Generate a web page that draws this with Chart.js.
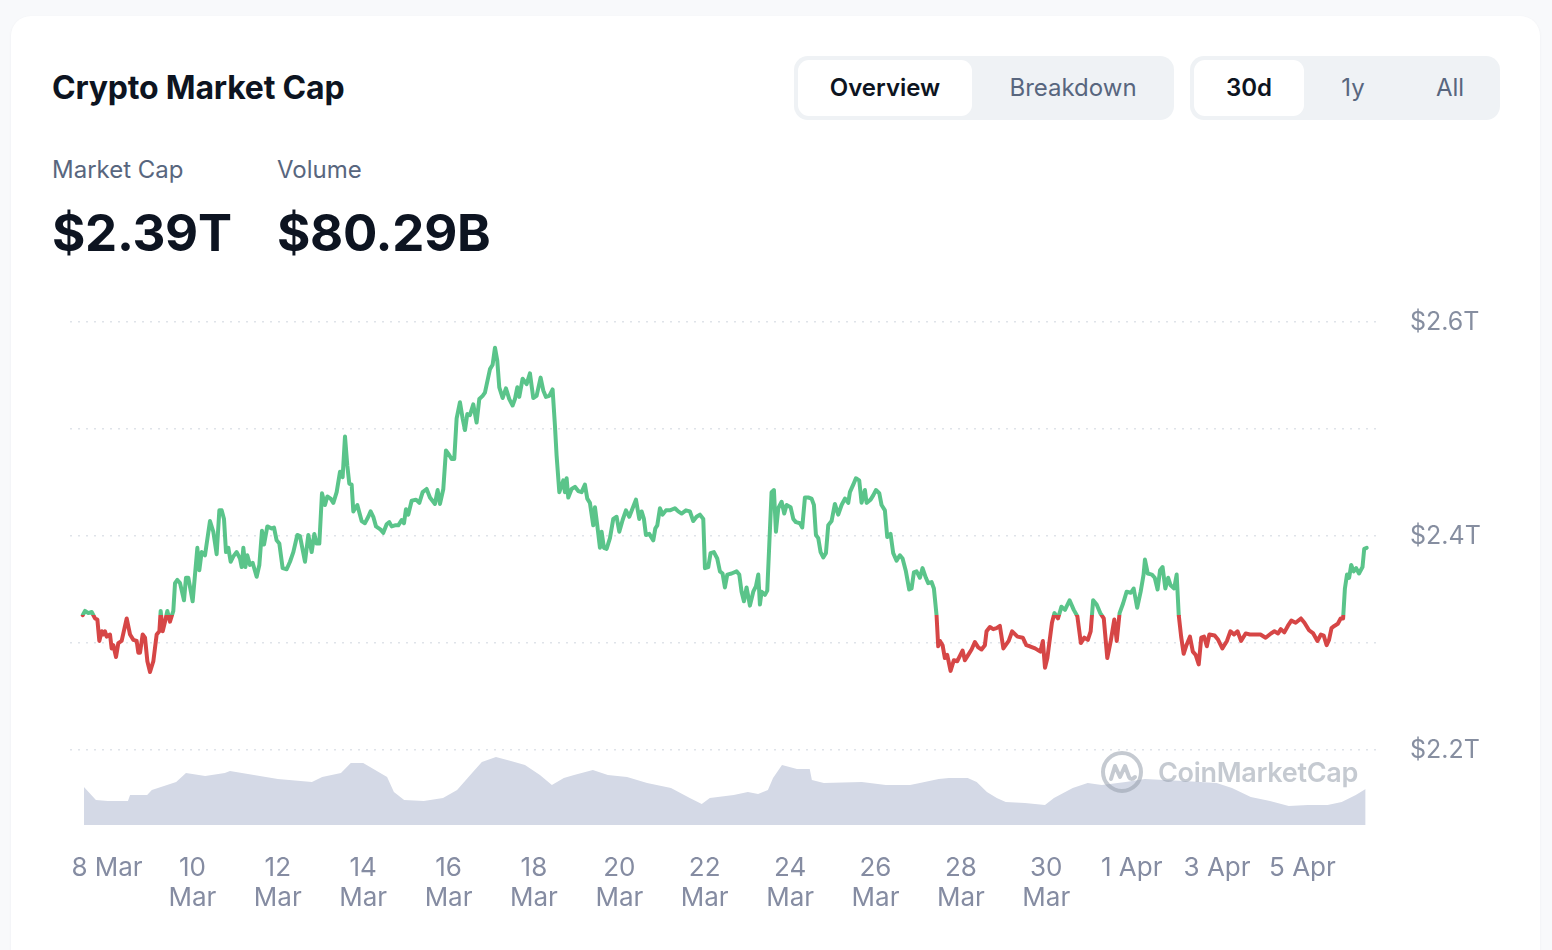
<!DOCTYPE html>
<html>
<head>
<meta charset="utf-8">
<title>Crypto Market Cap</title>
<script src="https://cdn.jsdelivr.net/npm/chart.js@4"></script>
<style>
  html, body { margin: 0; padding: 0; }
  body { width: 1552px; height: 950px; background: #f8f9fb; font-family: Inter, "Noto Sans", sans-serif; position: relative; overflow: hidden; }
  .card { position: absolute; left: 11px; top: 16px; width: 1529px; height: 960px; background: #fff; border-radius: 20px; box-shadow: 0 1px 3px rgba(20,30,50,0.05); }
  .title { position: absolute; left: 52px; top: 68px; font-size: 32px; font-weight: 700; color: #0d1421; letter-spacing: -0.2px; }
  .tabs { position: absolute; top: 56px; height: 64px; background: #eff2f5; border-radius: 14px; }
  .tab { position: absolute; top: 4px; height: 56px; line-height: 56px; text-align: center; font-size: 24px; color: #58667e; }
  .tab.on { background: #fff; border-radius: 11px; color: #0d1421; font-weight: 600; }
  .lbl { position: absolute; top: 155px; font-size: 24px; color: #58667e; }
  .big { position: absolute; top: 202px; font-size: 51px; font-weight: 700; color: #0d1421; letter-spacing: -0.3px; }
  #wrap { position: absolute; left: 0; top: 290px; width: 1552px; height: 640px; }
  .mark { position: absolute; left: 1100px; top: 749px; height: 46px; display: flex; align-items: center; color: rgba(150,158,172,0.55); font-size: 27px; font-weight: 600; letter-spacing: -0.3px; }
  .mark svg { margin-right: 14px; }
</style>
</head>
<body>
<div class="card"></div>
<div class="title">Crypto Market Cap</div>

<div class="tabs" style="left:794px;width:380px;">
  <div class="tab on" style="left:4px;width:174px;">Overview</div>
  <div class="tab" style="left:182px;width:194px;">Breakdown</div>
</div>
<div class="tabs" style="left:1190px;width:310px;">
  <div class="tab on" style="left:4px;width:110px;">30d</div>
  <div class="tab" style="left:116px;width:94px;">1y</div>
  <div class="tab" style="left:210px;width:100px;">All</div>
</div>

<div class="lbl" style="left:52px;">Market Cap</div>
<div class="lbl" style="left:277px;">Volume</div>
<div class="big" style="left:52px;">$2.39T</div>
<div class="big" style="left:277px;">$80.29B</div>

<div id="wrap"><canvas id="capChart" width="1552" height="640"></canvas></div>

<div class="mark">
  <svg width="44" height="44" viewBox="0 0 44 44">
    <circle cx="22" cy="22" r="19" fill="none" stroke="rgba(150,158,172,0.55)" stroke-width="4"/>
    <path d="M11 29 L15 16 L20 27 L25 16 L29 27 Q31 31 35 27" fill="none" stroke="rgba(150,158,172,0.55)" stroke-width="4" stroke-linejoin="round" stroke-linecap="round"/>
  </svg>
  CoinMarketCap
</div>

<script>
// days counted from 8 Mar 00:00
const capDays = [
  -0.570, -0.515, -0.437, -0.359, -0.281, -0.226, -0.180, -0.125, -0.086, -0.047, -0.008,
  0.070, 0.109, 0.148, 0.211, 0.265, 0.343, 0.461, 0.539, 0.617, 0.695, 0.734, 0.773, 0.835, 0.890, 0.945,
  1.007, 1.085, 1.163, 1.226, 1.257, 1.304, 1.358, 1.413, 1.475, 1.553, 1.593, 1.647, 1.710, 1.803, 1.850, 1.905,
  2.006, 2.061, 2.116, 2.162, 2.217, 2.295, 2.412, 2.490, 2.568, 2.631, 2.685, 2.740, 2.787, 2.842, 2.896, 2.959,
  3.037, 3.115, 3.154, 3.193, 3.240, 3.286, 3.349, 3.411, 3.505, 3.568, 3.630, 3.677, 3.755, 3.856, 3.911, 3.973,
  4.036, 4.114, 4.208, 4.286, 4.364, 4.457, 4.520, 4.637, 4.715, 4.793, 4.856, 4.910, 4.973,
  5.035, 5.105, 5.160, 5.238, 5.301, 5.379, 5.457, 5.519, 5.574, 5.628, 5.675, 5.730, 5.769, 5.863, 5.964,
  6.042, 6.120, 6.175, 6.237, 6.300, 6.409, 6.471, 6.550, 6.612, 6.667, 6.745, 6.823, 6.901, 6.956,
  7.002, 7.057, 7.135, 7.237, 7.315, 7.393, 7.486, 7.564, 7.681, 7.744, 7.799, 7.877, 7.939, 7.994,
  8.072, 8.134, 8.189, 8.267, 8.329, 8.384, 8.439, 8.501, 8.579, 8.657, 8.720, 8.798, 8.852, 8.970,
  9.032, 9.087, 9.141, 9.188, 9.266, 9.344, 9.422, 9.500, 9.555, 9.610, 9.656, 9.735, 9.828, 9.906, 9.984,
  10.062, 10.156, 10.219, 10.281, 10.359, 10.437, 10.492, 10.531, 10.594, 10.687, 10.726, 10.765, 10.804, 10.882, 10.960,
  11.038, 11.116, 11.194, 11.249, 11.311, 11.389, 11.429, 11.483, 11.546, 11.585, 11.639, 11.702, 11.780, 11.858, 11.936, 11.999,
  12.077, 12.155, 12.233, 12.311, 12.389, 12.467, 12.522, 12.576, 12.623, 12.701, 12.795, 12.842, 12.889, 12.951,
  13.014, 13.092, 13.185, 13.302, 13.380, 13.458, 13.560, 13.653, 13.731, 13.809, 13.888, 13.966,
  14.005, 14.083, 14.137, 14.215, 14.293, 14.356, 14.418, 14.473, 14.528, 14.629, 14.746, 14.809, 14.863, 14.918, 14.980,
  15.059, 15.137, 15.199, 15.254, 15.293, 15.332, 15.410, 15.465, 15.512, 15.566, 15.621, 15.668, 15.723, 15.801, 15.863, 15.918,
  16.011, 16.074, 16.136, 16.230, 16.284, 16.347, 16.425, 16.503, 16.558, 16.605, 16.659, 16.714, 16.776, 16.839, 16.893, 16.971,
  17.049, 17.127, 17.206, 17.284, 17.362, 17.401, 17.479, 17.541, 17.619, 17.674, 17.752, 17.791, 17.885, 17.947,
  18.010, 18.088, 18.142, 18.220, 18.275, 18.353, 18.415, 18.493, 18.571, 18.634, 18.712, 18.790, 18.845, 18.899, 18.962,
  19.040, 19.102, 19.180, 19.235, 19.313, 19.368, 19.430, 19.469, 19.508, 19.571, 19.625, 19.680, 19.758, 19.836, 19.914, 19.977,
  20.039, 20.094, 20.172, 20.250, 20.328, 20.406, 20.484, 20.562, 20.601, 20.679, 20.757, 20.835, 20.913, 20.995,
  21.120, 21.201, 21.326, 21.450, 21.532, 21.614, 21.738, 21.862, 21.920, 21.970,
  22.026, 22.133, 22.192, 22.274, 22.356, 22.438, 22.546, 22.644, 22.728, 22.810, 22.892, 22.974,
  23.040, 23.098, 23.180, 23.265, 23.347, 23.429, 23.511, 23.593, 23.651, 23.717, 23.799, 23.883, 23.981,
  24.047, 24.129, 24.211, 24.279, 24.311, 24.377, 24.475, 24.541, 24.607, 24.665, 24.724, 24.789, 24.855, 24.913, 24.995,
  25.054, 25.103, 25.159, 25.218, 25.283, 25.365, 25.433, 25.499, 25.571, 25.630, 25.696, 25.761, 25.820, 25.944,
  26.026, 26.124, 26.232, 26.314, 26.398, 26.480, 26.562, 26.670, 26.768, 26.892,
  27.017, 27.138, 27.262, 27.344, 27.429, 27.494, 27.576, 27.658, 27.740, 27.841, 27.965,
  28.047, 28.155, 28.253, 28.351, 28.433, 28.499, 28.567, 28.623, 28.681, 28.747, 28.829, 28.895, 28.953, 28.995,
  29.044, 29.094, 29.143, 29.201, 29.258, 29.325, 29.407, 29.447, 29.506
];
// market cap, trillions USD
const capValues = [
  2.326, 2.330, 2.328, 2.329, 2.323, 2.322, 2.302, 2.311, 2.308, 2.311, 2.306,
  2.308, 2.295, 2.298, 2.287, 2.300, 2.302, 2.323, 2.308, 2.303, 2.302, 2.291, 2.291, 2.308, 2.305, 2.283,
  2.273, 2.283, 2.308, 2.311, 2.330, 2.311, 2.320, 2.330, 2.320, 2.330, 2.356, 2.359, 2.356, 2.340, 2.361, 2.361,
  2.339, 2.364, 2.389, 2.368, 2.385, 2.382, 2.414, 2.404, 2.383, 2.424, 2.424, 2.416, 2.385, 2.389, 2.376, 2.381,
  2.385, 2.379, 2.371, 2.389, 2.371, 2.382, 2.373, 2.375, 2.362, 2.373, 2.405, 2.392, 2.409, 2.407, 2.408, 2.396,
  2.393, 2.370, 2.369, 2.376, 2.385, 2.401, 2.400, 2.376, 2.401, 2.385, 2.402, 2.393, 2.393,
  2.440, 2.429, 2.437, 2.435, 2.431, 2.441, 2.460, 2.455, 2.493, 2.466, 2.449, 2.448, 2.423, 2.429, 2.414,
  2.412, 2.418, 2.423, 2.418, 2.409, 2.406, 2.403, 2.411, 2.413, 2.409, 2.410, 2.410, 2.415, 2.412,
  2.425, 2.420, 2.433, 2.434, 2.431, 2.441, 2.444, 2.436, 2.430, 2.443, 2.430, 2.444, 2.480, 2.477,
  2.472, 2.472, 2.510, 2.525, 2.510, 2.499, 2.514, 2.513, 2.523, 2.506, 2.528, 2.531, 2.534, 2.556,
  2.560, 2.576, 2.564, 2.539, 2.529, 2.538, 2.528, 2.522, 2.528, 2.539, 2.530, 2.547, 2.542, 2.552, 2.529,
  2.531, 2.548, 2.536, 2.530, 2.531, 2.537, 2.503, 2.475, 2.441, 2.452, 2.441, 2.454, 2.436, 2.444, 2.446,
  2.442, 2.441, 2.448, 2.435, 2.431, 2.410, 2.427, 2.410, 2.389, 2.404, 2.389, 2.388, 2.398, 2.416, 2.418, 2.404,
  2.415, 2.424, 2.418, 2.426, 2.434, 2.416, 2.423, 2.416, 2.401, 2.402, 2.396, 2.407, 2.410, 2.426,
  2.420, 2.424, 2.424, 2.426, 2.423, 2.421, 2.424, 2.423, 2.414, 2.418, 2.420, 2.416,
  2.370, 2.371, 2.384, 2.385, 2.379, 2.367, 2.365, 2.352, 2.364, 2.365, 2.367, 2.364, 2.348, 2.339, 2.352,
  2.335, 2.348, 2.353, 2.364, 2.336, 2.348, 2.345, 2.349, 2.392, 2.441, 2.443, 2.404, 2.426, 2.432, 2.421, 2.429,
  2.427, 2.416, 2.413, 2.412, 2.408, 2.436, 2.436, 2.435, 2.429, 2.401, 2.398, 2.385, 2.380, 2.384, 2.410, 2.414,
  2.430, 2.420, 2.429, 2.435, 2.431, 2.441, 2.448, 2.454, 2.452, 2.431, 2.443, 2.431, 2.434, 2.438,
  2.443, 2.440, 2.429, 2.424, 2.399, 2.402, 2.384, 2.377, 2.382, 2.379, 2.367, 2.350, 2.351, 2.366, 2.367,
  2.361, 2.370, 2.361, 2.356, 2.357, 2.351, 2.326, 2.297, 2.302, 2.298, 2.286, 2.289, 2.274, 2.284, 2.283, 2.288,
  2.293, 2.284, 2.289, 2.294, 2.301, 2.296, 2.294, 2.298, 2.311, 2.315, 2.313, 2.314, 2.316, 2.295,
  2.302, 2.311, 2.306, 2.305, 2.298, 2.297, 2.295, 2.292, 2.302, 2.277,
  2.286, 2.319, 2.328, 2.323, 2.334, 2.331, 2.340, 2.331, 2.325, 2.300, 2.305, 2.303,
  2.311, 2.340, 2.336, 2.328, 2.323, 2.286, 2.302, 2.322, 2.302, 2.328, 2.337, 2.348, 2.347,
  2.351, 2.333, 2.348, 2.364, 2.378, 2.365, 2.364, 2.361, 2.350, 2.368, 2.371, 2.351, 2.361, 2.354, 2.351,
  2.364, 2.326, 2.306, 2.290, 2.298, 2.306, 2.292, 2.289, 2.280, 2.305, 2.306, 2.297, 2.308, 2.307,
  2.303, 2.295, 2.302, 2.311, 2.308, 2.311, 2.302, 2.309, 2.308, 2.308,
  2.308, 2.305, 2.309, 2.311, 2.309, 2.313, 2.310, 2.316, 2.321, 2.319, 2.323,
  2.319, 2.312, 2.309, 2.302, 2.308, 2.307, 2.298, 2.303, 2.314, 2.316, 2.318, 2.323, 2.323, 2.351,
  2.364, 2.361, 2.373, 2.367, 2.370, 2.365, 2.371, 2.388, 2.389
];

// volume, billions USD
const volDays = [
  -0.54, -0.26, 0.02, 0.49, 0.54, 0.94, 1.05, 1.62, 1.85, 2.30, 2.76, 2.88, 3.44, 4.00, 4.80, 5.04, 5.48, 5.71,
  6.00, 6.28, 6.56, 6.72, 6.96, 7.42, 7.87, 8.20, 8.55, 8.78, 9.11, 9.46, 9.79, 10.14, 10.42, 10.70, 10.94,
  11.38, 11.73, 12.18, 12.65, 13.21, 13.65, 13.93, 14.12, 14.68, 15.01, 15.25, 15.48, 15.60, 15.81, 16.16,
  16.46, 16.51, 16.79, 17.68, 18.24, 18.81, 19.04, 19.48, 19.72, 20.16, 20.37, 20.61, 20.84, 21.05, 21.50,
  21.97, 22.18, 22.62, 22.97, 23.30, 23.86, 24.31, 25.22, 25.99, 26.35, 26.79, 27.24, 27.68, 28.13, 28.59,
  28.92, 29.25, 29.48
];
const volValues = [
  76, 50, 48, 48, 60, 60, 70, 86, 104, 98, 104, 108, 100, 92, 86, 96, 104, 124,
  124, 110, 96, 66, 50, 48, 54, 70, 104, 126, 136, 128, 120, 100, 80, 94, 100,
  110, 100, 96, 84, 74, 54, 42, 54, 60, 66, 62, 70, 94, 120, 112,
  112, 90, 84, 86, 80, 80, 84, 92, 94, 94, 86, 66, 54, 46, 44,
  40, 54, 74, 84, 80, 86, 92, 88, 84, 74, 56, 48, 38, 40, 40,
  46, 60, 72
];

const tickDays = [0, 2, 4, 6, 8, 10, 12, 14, 16, 18, 20, 22, 24, 26, 28];
const tickLabels = [
  '8 Mar', ['10', 'Mar'], ['12', 'Mar'], ['14', 'Mar'], ['16', 'Mar'], ['18', 'Mar'], ['20', 'Mar'],
  ['22', 'Mar'], ['24', 'Mar'], ['26', 'Mar'], ['28', 'Mar'], ['30', 'Mar'], '1 Apr', '3 Apr', '5 Apr'
];
const yTicks = [2.2, 2.3, 2.4, 2.5, 2.6];
const yTickLabels = ['$2.2T', '', '$2.4T', '', '$2.6T'];

const UP = '#5ac48a';
const DOWN = '#d64646';
const baseline = capValues[0];

function splitColor(context) {
  const chart = context.chart;
  const area = chart.chartArea;
  if (!area) return UP;
  const yb = chart.scales.y.getPixelForValue(baseline);
  const f = Math.min(1, Math.max(0, (yb - area.top) / (area.bottom - area.top)));
  const g = chart.ctx.createLinearGradient(0, area.top, 0, area.bottom);
  g.addColorStop(0, UP);
  g.addColorStop(f, UP);
  g.addColorStop(f, DOWN);
  g.addColorStop(1, DOWN);
  return g;
}

const ctx = document.getElementById('capChart').getContext('2d');
new Chart(ctx, {
  type: 'line',
  data: {
    datasets: [{
      label: 'Market Cap',
      data: capDays.map((d, i) => ({ x: d, y: capValues[i] })),
      borderColor: splitColor,
      borderWidth: 4,
      borderJoinStyle: 'round',
      borderCapStyle: 'round',
      pointRadius: 0,
      tension: 0,
      yAxisID: 'y',
      order: 0
    }, {
      label: 'Volume',
      data: volDays.map((d, i) => ({ x: d, y: volValues[i] })),
      borderWidth: 0,
      backgroundColor: '#d4d9e6',
      fill: 'origin',
      pointRadius: 0,
      tension: 0,
      yAxisID: 'vol',
      order: 1
    }]
  },
  options: {
    responsive: false,
    animation: false,
    layout: { padding: { left: 70, top: 32, right: 0, bottom: 0 } },
    plugins: {
      legend: { display: false },
      tooltip: { enabled: false }
    },
    scales: {
      x: {
        type: 'linear',
        min: -0.867,
        max: 29.77,
        afterBuildTicks: s => { s.ticks = tickDays.map(v => ({ value: v })); },
        afterFit: s => { s.height = 105; },
        grid: { display: false, drawTicks: false },
        border: { display: false },
        ticks: {
          autoSkip: false,
          maxRotation: 0,
          padding: 28,
          color: '#858ca2',
          font: { family: 'Inter', size: 26, lineHeight: 1.154 },
          callback: v => tickLabels[tickDays.indexOf(v)]
        }
      },
      y: {
        position: 'right',
        min: 2.13,
        max: 2.6,
        afterBuildTicks: s => { s.ticks = yTicks.map(v => ({ value: v })); },
        afterFit: s => { s.width = 174; s.paddingTop = 0; s.paddingBottom = 0; },
        grid: { color: '#dfe3e9', lineWidth: 1.5, drawTicks: false },
        border: { display: false, dash: [2, 6] },
        ticks: {
          padding: 32,
          color: '#868ea0',
          font: { family: 'Inter', size: 25 },
          callback: (v, i) => yTickLabels[i]
        }
      },
      vol: {
        display: false,
        min: 0,
        max: 1006
      }
    }
  }
});
</script>
</body>
</html>
